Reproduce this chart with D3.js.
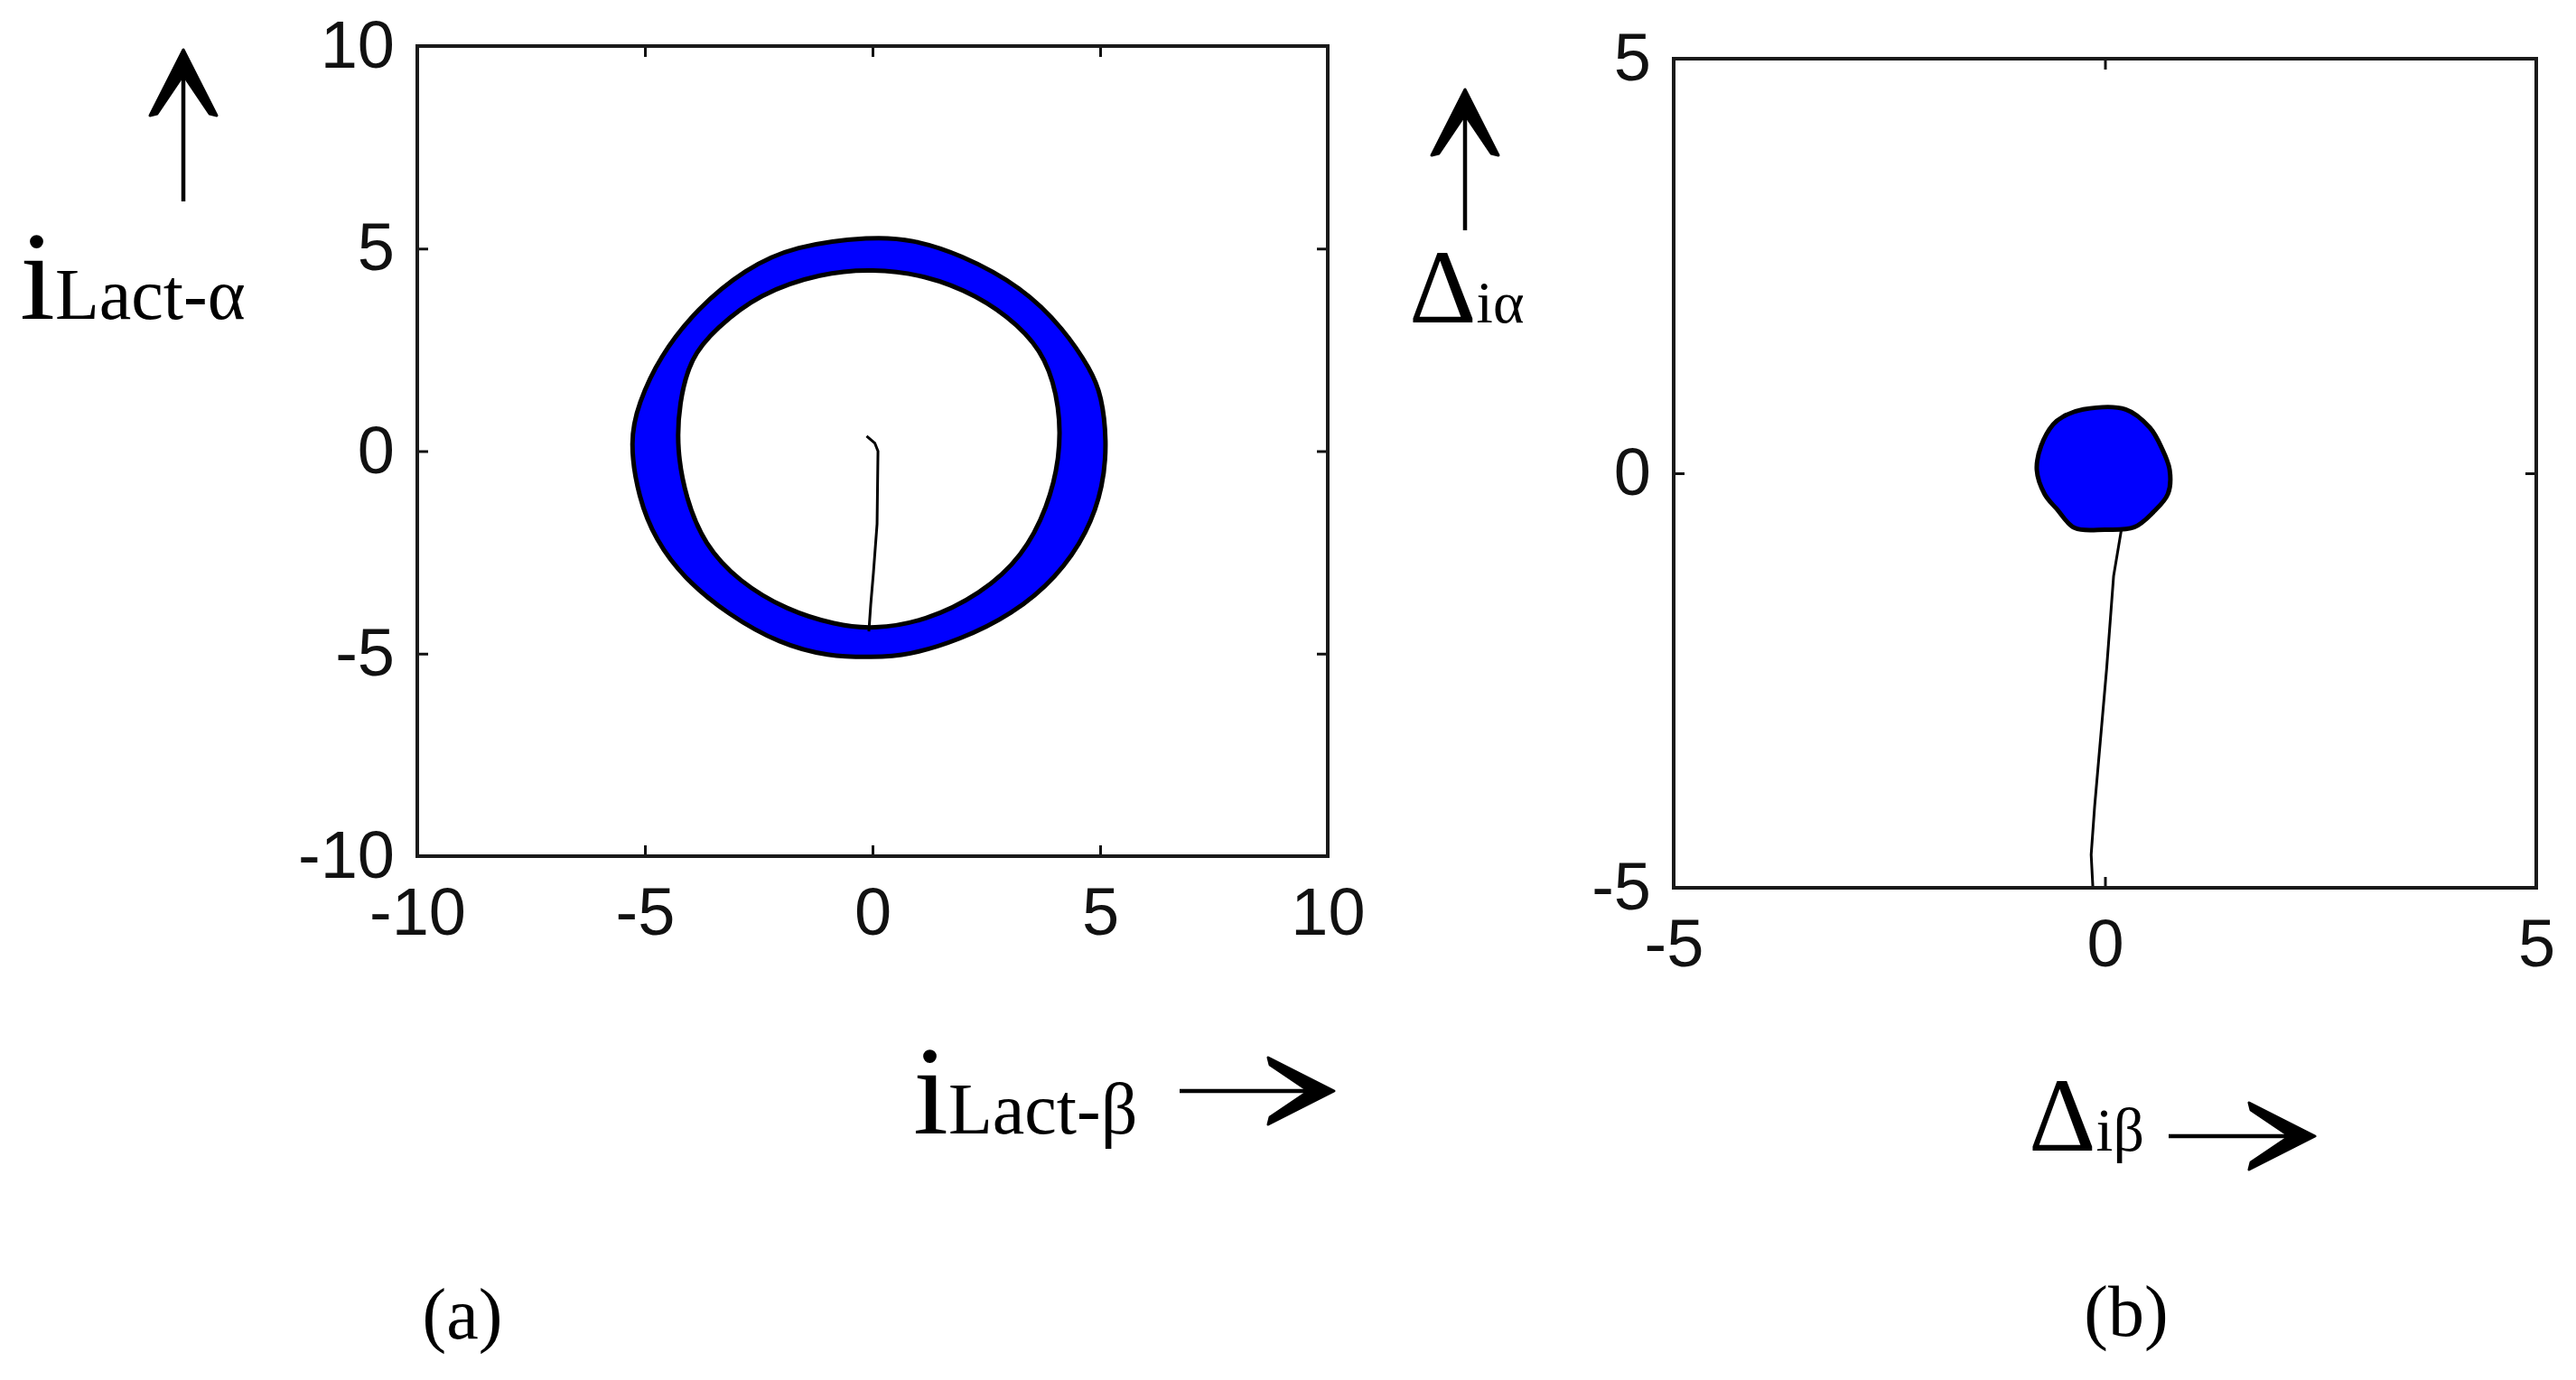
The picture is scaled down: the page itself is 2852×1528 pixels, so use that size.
<!DOCTYPE html>
<html>
<head>
<meta charset="utf-8">
<script src="https://cdn.jsdelivr.net/npm/d3@7"></script>
<style>
body { margin: 0; background: #ffffff; }
</style>
</head>
<body>
<div id="chart"></div>
<script>
// tick values of the two panels
var ticksA = [-10, -5, 0, 5, 10];
var ticksB = [-5, 0, 5];

// panel (a): outer and inner edge of the current ring
var ringOuter = [
    [0, 5.3], [-1.73, 5.07], [-2.79, 4.5], [-3.85, 3.53], [-4.69, 2.31], [-5.14, 1.18],
    [-5.34, 0.26], [-5.14, -1.17], [-4.76, -2.2], [-4.16, -3.12], [-3.17, -4.04],
    [-2.03, -4.76], [-0.97, -5.07], [0, -5.09], [0.77, -5.05], [1.92, -4.66], [3.06, -4.04],
    [4.05, -3.12], [4.73, -2.0], [5.07, -0.87], [5.15, 0.26], [5.03, 1.38], [4.8, 2.0],
    [4.2, 3.02], [3.29, 4.05], [1.92, 4.87], [0.85, 5.23]
];
var ringInner = [
    [0, 4.5], [-1.12, 4.4], [-2.49, 3.89], [-3.45, 3.02], [-4.0, 2.31], [-4.25, 1.18],
    [-4.3, 0.05], [-4.1, -1.17], [-3.7, -2.3], [-2.94, -3.22], [-1.88, -3.93],
    [-0.81, -4.29], [0, -4.4], [1.16, -4.2], [2.38, -3.53], [3.3, -2.6], [3.85, -1.38],
    [4.12, -0.15], [4.12, 1.08], [3.82, 2.31], [3.21, 3.12], [2.3, 3.85], [1.16, 4.35]
];
// start-up trace inside the ring
var traceA = [
    [-0.13, 0.37], [0.05, 0.2], [0.12, 0.0], [0.1, -1.8], [0.02, -3.0], [-0.04, -3.8], [-0.08, -4.45]
];

// panel (b): error blob and its start-up trace
var blobB = [
    [-0.25, 0.77], [0.24, 0.77], [0.52, 0.55], [0.66, 0.30], [0.75, 0.04], [0.73, -0.25],
    [0.56, -0.47], [0.34, -0.65], [0, -0.68], [-0.35, -0.66], [-0.56, -0.43], [-0.70, -0.25],
    [-0.79, 0.04], [-0.74, 0.33], [-0.60, 0.59], [-0.49, 0.68]
];
var traceB = [
    [0.19, -0.68], [0.1, -1.24], [0.02, -2.35], [-0.12, -4.02], [-0.16, -4.6], [-0.14, -5]
];

var W = 2852, H = 1528;

var svg = d3.select("#chart").append("svg")
    .attr("width", W)
    .attr("height", H)
    .style("background-color", "white");

function drawPanel(p) {
    var g = svg.append("g").attr("transform", "translate(" + p.left + "," + p.top + ")");

    var x = d3.scaleLinear().domain(p.domain).range([0, p.width]);
    var y = d3.scaleLinear().domain(p.domain).range([p.height, 0]);

    var fmt = function(d) { return String(d); };

    var axes = [
        { a: d3.axisBottom(x).tickPadding(34).tickFormat(fmt), t: "translate(0," + p.height + ")" },
        { a: d3.axisLeft(y).tickPadding(25).tickFormat(fmt), t: null },
        { a: d3.axisTop(x).tickFormat(""), t: null },
        { a: d3.axisRight(y).tickFormat(""), t: "translate(" + p.width + ",0)" }
    ];
    axes.forEach(function(ax) {
        var ag = g.append("g")
            .attr("transform", ax.t)
            .call(ax.a.tickValues(p.ticks).tickSizeInner(-12).tickSizeOuter(0));
        ag.select(".domain").remove();
        ag.selectAll(".tick line").attr("stroke", "#111").attr("stroke-width", 3);
        ag.selectAll(".tick text")
            .attr("fill", "#111")
            .style("font-family", "'Liberation Sans', Arial, sans-serif")
            .style("font-size", "74px");
    });

    p.draw(g, x, y);

    g.append("rect")
        .attr("x", 0)
        .attr("y", 0)
        .attr("width", p.width)
        .attr("height", p.height)
        .attr("fill", "none")
        .attr("stroke", "#1a1a1a")
        .attr("stroke-width", 4);
}

function lineGen(x, y, curve) {
    return d3.line()
        .x(function(d) { return x(d[0]); })
        .y(function(d) { return y(d[1]); })
        .curve(curve);
}

// panel (a)
drawPanel({
    left: 462, top: 51, width: 1008, height: 897,
    domain: [-10, 10], ticks: ticksA,
    draw: function(g, x, y) {
        var closed = lineGen(x, y, d3.curveBasisClosed);
        g.append("path")
            .attr("d", closed(ringOuter) + closed(ringInner))
            .attr("fill", "#0000ff")
            .attr("fill-rule", "evenodd")
            .attr("stroke", "#000")
            .attr("stroke-width", 5);
        g.append("path")
            .attr("d", lineGen(x, y, d3.curveLinear)(traceA))
            .attr("fill", "none")
            .attr("stroke", "#000")
            .attr("stroke-width", 3);
    }
});

// panel (b)
drawPanel({
    left: 1853, top: 65, width: 955, height: 918,
    domain: [-5, 5], ticks: ticksB,
    draw: function(g, x, y) {
        g.append("path")
            .attr("d", lineGen(x, y, d3.curveCatmullRomClosed)(blobB))
            .attr("fill", "#0000ff")
            .attr("stroke", "#000")
            .attr("stroke-width", 5);
        g.append("path")
            .attr("d", lineGen(x, y, d3.curveLinear)(traceB))
            .attr("fill", "none")
            .attr("stroke", "#000")
            .attr("stroke-width", 3);
    }
});

// axis names with subscripts
function label(x, y, big, bigSize, sub, subSize) {
    var t = svg.append("text")
        .attr("x", x)
        .attr("y", y)
        .attr("fill", "#000")
        .style("font-family", "'Liberation Serif', 'Times New Roman', serif");
    t.append("tspan").style("font-size", bigSize + "px").text(big);
    t.append("tspan").style("font-size", subSize + "px").text(sub);
}

label(22, 353, "i", 140, "Lact-\u03b1", 80);
label(1011, 1255, "i", 140, "Lact-\u03b2", 80);
label(1560, 357, "\u0394", 116, "i\u03b1", 66);
label(2246, 1274, "\u0394", 116, "i\u03b2", 68);

// arrows beside the axis names (chevron head)
function arrow(x1, y1, x2, y2) {
    var ang = Math.atan2(y2 - y1, x2 - x1) * 180 / Math.PI;
    var len = Math.hypot(x2 - x1, y2 - y1);
    var a = svg.append("g")
        .attr("transform", "translate(" + x2 + "," + y2 + ") rotate(" + ang + ")");
    a.append("line")
        .attr("x1", -len).attr("y1", 0)
        .attr("x2", -20).attr("y2", 0)
        .attr("stroke", "#000")
        .attr("stroke-width", 4.5);
    a.append("path")
        .attr("d", "M3,0 L-70,-37 L-68,-29 L-28,-2 L-28,2 L-68,29 L-70,37 Z")
        .attr("fill", "#000")
        .attr("stroke", "#000")
        .attr("stroke-width", 3)
        .attr("stroke-linejoin", "round");
}

arrow(203, 223, 203, 58);
arrow(1306, 1208, 1474, 1208);
arrow(1622, 255, 1622, 102);
arrow(2401, 1258, 2560, 1258);

// sub-figure captions
svg.append("text")
    .attr("x", 512).attr("y", 1482)
    .attr("text-anchor", "middle")
    .style("font-family", "'Liberation Serif', 'Times New Roman', serif")
    .style("font-size", "80px")
    .text("(a)");
svg.append("text")
    .attr("x", 2354).attr("y", 1479)
    .attr("text-anchor", "middle")
    .style("font-family", "'Liberation Serif', 'Times New Roman', serif")
    .style("font-size", "80px")
    .text("(b)");
</script>
</body>
</html>
